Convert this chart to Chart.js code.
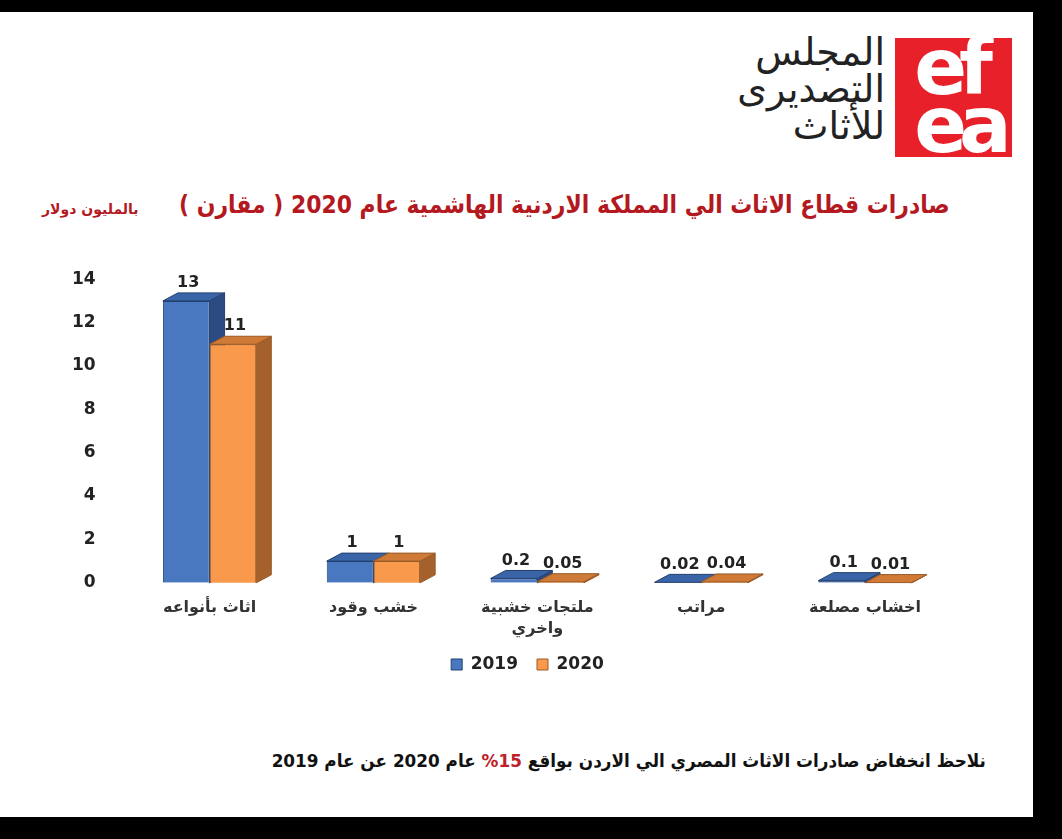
<!DOCTYPE html>
<html lang="ar">
<head>
<meta charset="UTF-8">
<title>صادرات قطاع الاثاث الي الاردن 2020</title>
<script src="https://cdn.jsdelivr.net/npm/chart.js"></script>
<style>
    html, body {
        margin: 0;
        padding: 0;
        width: 1062px;
        height: 839px;
        background: #000;
        overflow: hidden;
        font-family: "DejaVu Sans", Arial, sans-serif;
    }
    #slide {
        position: absolute;
        left: 0; top: 12px;
        width: 1033px; height: 805px;
        background: #fff;
    }
    .abs { position: absolute; }
    #logoText {
        right: 177px; top: 34px;
        direction: rtl; text-align: right;
        font-size: 38px; line-height: 37px;
        font-weight: normal; color: #222;
    }
    #logoMark {
        left: 895px; top: 38px;
        width: 117px; height: 119px;
        background: #e8202a;
        overflow: hidden;
        color: #fff;
        font: bold 78px "DejaVu Sans", sans-serif;
        line-height: 58px;
        letter-spacing: -8px;
    }
    #title {
        right: 112px; top: 190px;
        direction: rtl;
        font: bold 25px "DejaVu Sans", Arial, sans-serif;
        color: #b3191f;
        white-space: nowrap;
        transform: scaleX(0.877);
        transform-origin: right center;
    }
    #unit {
        left: 42px; top: 201px;
        direction: rtl;
        font: bold 14px "DejaVu Sans", Arial, sans-serif;
        color: #b3191f;
        white-space: nowrap;
    }
    #note {
        right: 76px; top: 750px;
        direction: rtl;
        font: bold 18px "DejaVu Sans", Arial, sans-serif;
        color: #111;
        white-space: nowrap;
        transform: scaleX(0.935);
        transform-origin: right center;
    }
    #note .red { color: #c0202a; }
    #chartBox {
        left: 40px; top: 237px;
        width: 950px; height: 463px;
    }
</style>
</head>
<body>
<div id="slide"></div>
<div id="logoText" class="abs">المجلس<br>التصديرى<br>للأثاث</div>
<div id="logoMark" class="abs">&nbsp;ef<br>&nbsp;ea</div>
<div id="title" class="abs">صادرات قطاع الاثاث الي المملكة الاردنية الهاشمية عام 2020 ( مقارن )</div>
<div id="unit" class="abs">بالمليون دولار</div>
<div id="chartBox" class="abs"><canvas id="chart"></canvas></div>
<div id="note" class="abs">نلاحظ انخفاض صادرات الاثاث المصري الي الاردن بواقع <span class="red">15%</span> عام 2020 عن عام 2019</div>

<script>
    const categories = [
        'اثاث بأنواعه',
        'خشب وقود',
        ['ملتجات خشبية', 'واخري'],
        'مراتب',
        'اخشاب مصلعة'
    ];
    const years = ['2019', '2020'];
    const values2019 = [13, 1, 0.2, 0.02, 0.1];
    const values2020 = [11, 1, 0.05, 0.04, 0.01];
    const yTicks = [0, 2, 4, 6, 8, 10, 12, 14];

    // front / side / top colours for the fake 3D look
    const faces = [
        { front: '#4a78c0', side: '#2b4b82', top: '#3a64a8', edge: '#23406e' },
        { front: '#f8994b', side: '#a5612b', top: '#cf7a36', edge: '#9a5a26' }
    ];
    const DX = 15, DY = 8;

    function sideAndTop(ctx, bar, f) {
        const l = bar.x - bar.width / 2, r = bar.x + bar.width / 2;
        const t = bar.y, b = bar.base;
        ctx.beginPath();
        ctx.moveTo(r, t); ctx.lineTo(r + DX, t - DY);
        ctx.lineTo(r + DX, b - DY); ctx.lineTo(r, b);
        ctx.closePath();
        ctx.fillStyle = f.side; ctx.fill(); ctx.stroke();
        ctx.beginPath();
        ctx.moveTo(l, t); ctx.lineTo(l + DX, t - DY);
        ctx.lineTo(r + DX, t - DY); ctx.lineTo(r, t);
        ctx.closePath();
        ctx.fillStyle = f.top; ctx.fill(); ctx.stroke();
    }

    const bars3d = {
        id: 'bars3d',
        // pull the legend a bit closer to the axis labels and centre it like the slide
        afterLayout(chart) {
            const lg = chart.legend;
            lg.top -= 17; lg.bottom -= 17;
            lg.left += 34; lg.right += 34;
        },
        afterDatasetsDraw(chart) {
            const ctx = chart.ctx;
            ctx.save();
            ctx.lineWidth = 1;
            // 2019 depth first, then the 2020 fronts go over it
            ctx.strokeStyle = faces[0].edge;
            chart.getDatasetMeta(0).data.forEach(bar => sideAndTop(ctx, bar, faces[0]));
            chart.getDatasetMeta(1).data.forEach(bar => {
                bar.draw(ctx);
                ctx.lineWidth = 1;
                ctx.strokeStyle = faces[1].edge;
                sideAndTop(ctx, bar, faces[1]);
            });
            ctx.restore();

            ctx.save();
            ctx.font = 'bold 16px "DejaVu Sans", sans-serif';
            ctx.fillStyle = '#222';
            ctx.textAlign = 'center';
            ctx.textBaseline = 'bottom';
            chart.data.datasets.forEach((ds, i) => {
                chart.getDatasetMeta(i).data.forEach((bar, j) => {
                    ctx.fillText(String(ds.data[j]), bar.x + 2, bar.y - DY - 2);
                });
            });
            ctx.restore();
        }
    };

    new Chart(document.getElementById('chart'), {
        type: 'bar',
        data: {
            labels: categories,
            datasets: [
                { label: years[0], data: values2019,
                  backgroundColor: faces[0].front, borderColor: faces[0].edge, borderWidth: 1 },
                { label: years[1], data: values2020,
                  backgroundColor: faces[1].front, borderColor: faces[1].edge, borderWidth: 1 }
            ]
        },
        options: {
            responsive: true,
            maintainAspectRatio: false,
            animation: false,
            categoryPercentage: 0.57,
            barPercentage: 1.0,
            layout: { padding: { left: 0, right: 43, top: 4, bottom: 0 } },
            plugins: {
                legend: {
                    position: 'bottom',
                    labels: {
                        boxWidth: 11, boxHeight: 11, padding: 19,
                        color: '#222',
                        font: { family: '"DejaVu Sans", sans-serif', size: 17, weight: 'bold' }
                    }
                },
                tooltip: { enabled: false }
            },
            scales: {
                x: {
                    grid: { display: false, drawTicks: false },
                    border: { display: false },
                    ticks: {
                        padding: 14,
                        color: '#333',
                        font: { family: '"DejaVu Sans", sans-serif', size: 16, weight: 'bold', lineHeight: 1.35 },
                        maxRotation: 0
                    }
                },
                y: {
                    min: 0, max: 14,
                    grid: { display: false, drawTicks: false },
                    border: { display: false },
                    afterBuildTicks: axis => { axis.ticks = yTicks.map(v => ({ value: v })); },
                    ticks: {
                        padding: 32,
                        color: '#222',
                        font: { family: '"DejaVu Sans", sans-serif', size: 17, weight: 'bold' }
                    }
                }
            }
        },
        plugins: [bars3d]
    });
</script>
</body>
</html>
